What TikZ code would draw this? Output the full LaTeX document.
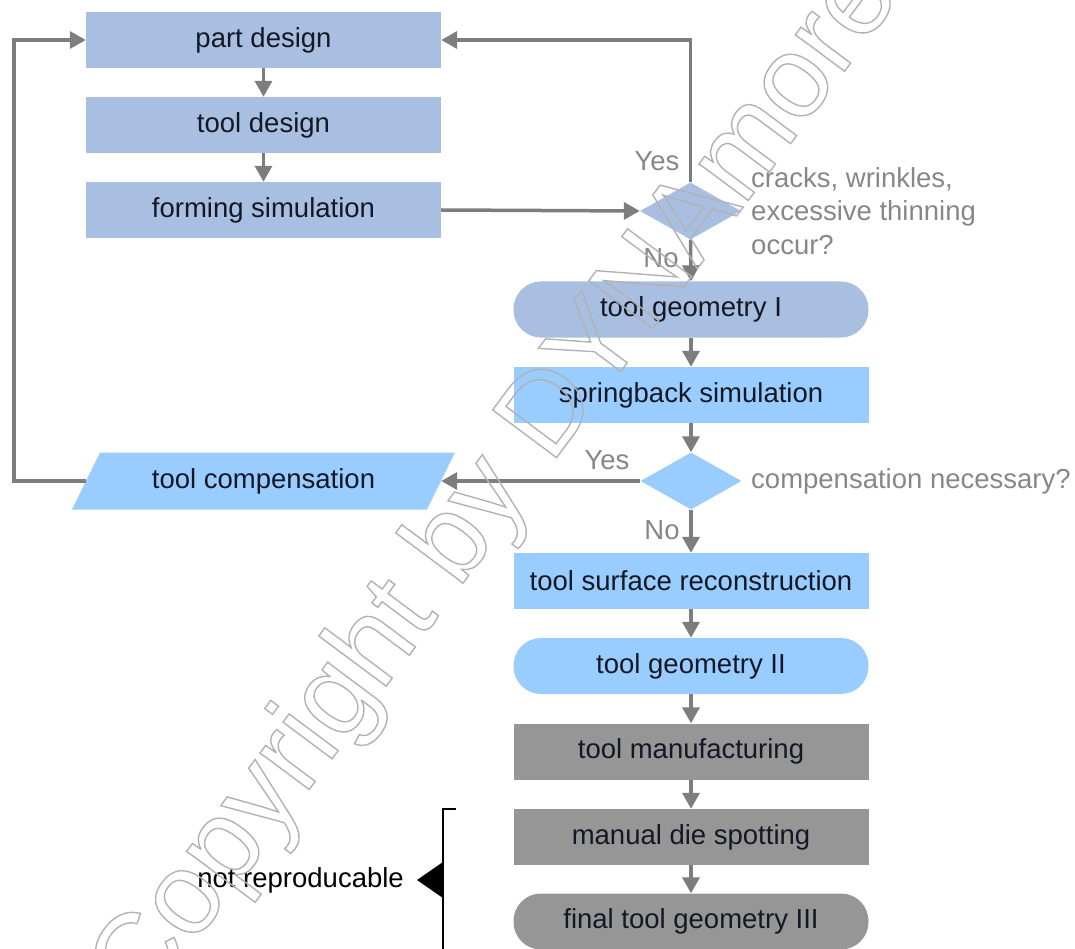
\documentclass[tikz,border=0pt]{standalone}
\usepackage{fontspec}
\setmainfont{Liberation Sans}
\usetikzlibrary{shapes.geometric,arrows.meta}
\definecolor{blueA}{RGB}{169,191,225}
\definecolor{blueB}{RGB}{153,204,255}
\definecolor{greybox}{RGB}{150,150,150}
\definecolor{arrowgrey}{RGB}{125,125,125}
\definecolor{lblgrey}{RGB}{135,135,135}
\definecolor{boxtext}{RGB}{20,24,36}
\definecolor{wmgrey}{RGB}{225,225,225}
\newcommand{\outlinetext}[1]{\special{pdf:literal direct 1 Tr 1.4 w 0.70 G}#1\special{pdf:literal direct 0 Tr}}
\begin{document}
\begin{tikzpicture}[x=1pt,y=-1pt,
  bx/.style={rectangle, minimum width=355pt, minimum height=56pt, inner sep=0pt,
     font=\fontsize{27.5}{33}\selectfont, text=boxtext},
  stadium/.style={bx, rounded corners=27.5pt},
  dia/.style={diamond, minimum width=101pt, minimum height=57pt, inner sep=0pt},
  arr/.style={draw=arrowgrey, line width=3.5pt, -{Triangle[length=16pt,width=17pt]}},
  lbl/.style={text=lblgrey, inner sep=0pt, font=\fontsize{27.5}{33.5}\selectfont},
  wm/.style={inner sep=0pt, text=wmgrey, font=\fontsize{116}{116}\selectfont}]
\useasboundingbox (0,0) rectangle (1075,949);

% left column
\node[bx, fill=blueA] (part) at (263.5,40) {part design};
\node[bx, fill=blueA] (tool) at (263.5,125) {tool design};
\node[bx, fill=blueA] (form) at (263.5,210) {forming simulation};

% first decision
\node[dia, fill=blueA] (d1) at (690.5,211) {};
\node[lbl, anchor=center] (yes1) at (657,161) {Yes};
\node[lbl, anchor=center] (no1) at (661,258) {No};
\node[lbl, anchor=west, align=left] (q1) at (751,211) {cracks, wrinkles,\\excessive thinning\\occur?};

% right column
\node[stadium, fill=blueA] (geo1) at (691,309.5) {tool geometry I};
\node[bx, fill=blueB] (spring) at (691,395) {springback simulation};
\node[dia, fill=blueB] (d2) at (691,481) {};
\node[lbl, anchor=center] (yes2) at (607,460) {Yes};
\node[lbl, anchor=center] (no2) at (662,530) {No};
\node[lbl, anchor=west] (q2) at (751,481) {compensation necessary?};

% compensation parallelogram
\fill[blueB] (72,509.5) -- (100,452.5) -- (455,452.5) -- (427,509.5) -- cycle;
\node[bx] (comp) at (263.5,481) {tool compensation};

\node[bx, fill=blueB] (surf) at (691,581) {tool surface reconstruction};
\node[stadium, fill=blueB] (geo2) at (691,666) {tool geometry II};
\node[bx, fill=greybox] (manu) at (691,751.5) {tool manufacturing};
\node[bx, fill=greybox] (die) at (691,837) {manual die spotting};
\node[stadium, fill=greybox] (geo3) at (691,921.5) {final tool geometry III};

% connectors
\draw[arr] (part) -- (tool);
\draw[arr] (tool) -- (form);
\draw[arr] (form.east) -- (d1.west);
\draw[arr] (d1.north) |- (part.east);
\draw[arr] (d1.south) -- (geo1.north);
\draw[arr] (geo1) -- (spring);
\draw[arr] (spring) -- (d2.north);
\draw[arr] (d2.west) -- (comp.east);
\draw[arr] (comp.west) -- ++(-72,0) |- (part.west);
\draw[arr] (d2.south) -- (surf.north);
\draw[arr] (surf) -- (geo2);
\draw[arr] (geo2) -- (manu);
\draw[arr] (manu) -- (die);
\draw[arr] (die) -- (geo3);

% bracket
\coordinate (brtop) at (456,809);
\coordinate (brbot) at (443,955);
\draw[line width=2.5pt, black] (brtop) -| (brbot);
\fill[black] (443,862) -- (417,880) -- (443,898) -- cycle;
\node[anchor=east, inner sep=0pt, text=black, font=\fontsize{27.5}{33}\selectfont] (nr) at (404,880) {not reproducable};

% watermark (outlined text on top)
\node[wm, rotate=53.3] (wmark) at (498,486) {\outlinetext{Copyright by DYNAmore}};
\end{tikzpicture}
\end{document}
